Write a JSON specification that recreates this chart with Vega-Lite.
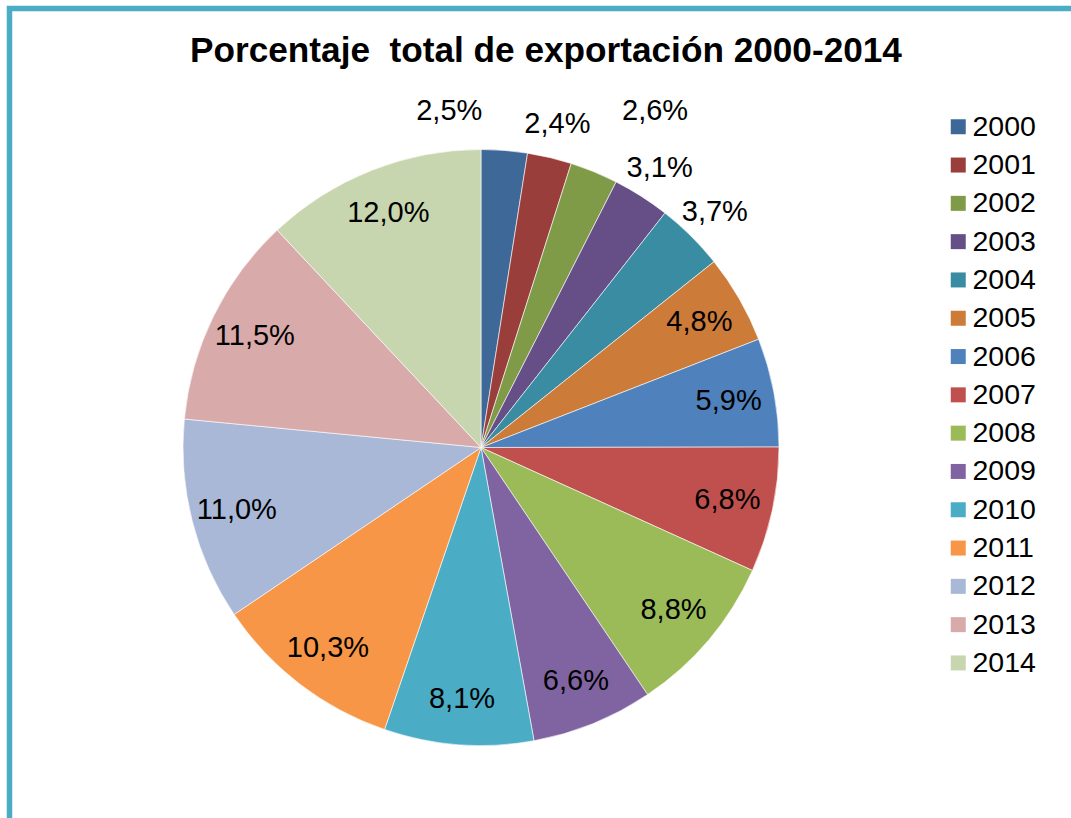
{
  "$schema": "https://vega.github.io/schema/vega-lite/v6.json",
  "width": 1075,
  "height": 820,
  "autosize": {"type": "none"},
  "padding": {"left": 9.5, "top": 8.5, "right": 0, "bottom": 0},
  "view": {"stroke": "#4BACC6", "strokeWidth": 5.5, "fill": "#ffffff"},
  "config": {
    "view": {"stroke": "#4BACC6", "strokeWidth": 5.5},
    "font": "Liberation Sans",
    "locale": {"number": {"decimal": ",", "thousands": ".", "grouping": [3], "currency": ["", " €"]}}
  },
  "title": {
    "text": "Porcentaje\u00a0 total de exportación 2000-2014",
    "font": "Liberation Sans",
    "fontSize": 35.2,
    "fontWeight": "bold",
    "color": "#000000",
    "anchor": "middle",
    "frame": "group",
    "baseline": "alphabetic",
    "offset": -54,
    "dy": 35,
    "dx": -1
  },
  "data": {
    "values": [
      {"year": 2000, "share": 0.025},
      {"year": 2001, "share": 0.024},
      {"year": 2002, "share": 0.026},
      {"year": 2003, "share": 0.031},
      {"year": 2004, "share": 0.037},
      {"year": 2005, "share": 0.048},
      {"year": 2006, "share": 0.059},
      {"year": 2007, "share": 0.068},
      {"year": 2008, "share": 0.088},
      {"year": 2009, "share": 0.066},
      {"year": 2010, "share": 0.081},
      {"year": 2011, "share": 0.103},
      {"year": 2012, "share": 0.110},
      {"year": 2013, "share": 0.115},
      {"year": 2014, "share": 0.120}
    ]
  },
  "encoding": {
    "theta": {"field": "share", "type": "quantitative", "stack": true},
    "order": {"field": "year", "type": "ordinal"}
  },
  "layer": [
    {
      "mark": {"type": "arc", "outerRadius": 298, "x": 471.5, "y": 439, "stroke": "#ffffff", "strokeWidth": 0.6},
      "encoding": {
        "color": {
          "field": "year",
          "type": "nominal",
          "scale": {
            "domain": [2000, 2001, 2002, 2003, 2004, 2005, 2006, 2007, 2008, 2009, 2010, 2011, 2012, 2013, 2014],
            "range": ["#3E6897", "#9A3E3C", "#7F9B48", "#664F86", "#3A8CA3", "#CC7B38", "#4F81BD", "#C0504D", "#9BBB59", "#8064A2", "#4BACC6", "#F79646", "#A9B8D7", "#D9AAAA", "#C7D6AE"]
          },
          "legend": {
            "orient": "none",
            "legendX": 934.5,
            "legendY": 104,
            "title": null,
            "padding": 0,
            "symbolType": "square",
            "symbolSize": 225,
            "symbolStrokeWidth": 0,
            "labelFont": "Liberation Sans",
            "labelFontSize": 28.5,
            "labelColor": "#000000",
            "labelOffset": 0,
            "rowPadding": 9.3
          }
        }
      }
    },
    {
      "mark": {"type": "text", "radius": 252, "x": 471.5, "y": 439, "fontSize": 29, "color": "#000000", "font": "Liberation Sans"},
      "encoding": {
        "detail": {"field": "year"},
        "text": {"field": "share", "type": "quantitative", "format": ".1%"},
        "opacity": {"condition": {"test": "datum.year >= 2005", "value": 1}, "value": 0}
      }
    },
    {
      "mark": {"type": "text", "radius": 332, "x": 471.5, "y": 439, "fontSize": 29, "color": "#000000", "font": "Liberation Sans"},
      "encoding": {
        "detail": {"field": "year"},
        "text": {"field": "share", "type": "quantitative", "format": ".1%"},
        "opacity": {"condition": {"test": "datum.year == 2001 || datum.year == 2003 || datum.year == 2004", "value": 1}, "value": 0}
      }
    },
    {
      "mark": {"type": "text", "radius": 335, "x": 471.5, "y": 439, "dx": -58, "dy": -3, "fontSize": 29, "color": "#000000", "font": "Liberation Sans"},
      "encoding": {
        "detail": {"field": "year"},
        "text": {"field": "share", "type": "quantitative", "format": ".1%"},
        "opacity": {"condition": {"test": "datum.year == 2000", "value": 1}, "value": 0}
      }
    },
    {
      "mark": {"type": "text", "radius": 335, "x": 471.5, "y": 439, "dx": 47, "dy": -27, "fontSize": 29, "color": "#000000", "font": "Liberation Sans"},
      "encoding": {
        "detail": {"field": "year"},
        "text": {"field": "share", "type": "quantitative", "format": ".1%"},
        "opacity": {"condition": {"test": "datum.year == 2002", "value": 1}, "value": 0}
      }
    }
  ]
}
